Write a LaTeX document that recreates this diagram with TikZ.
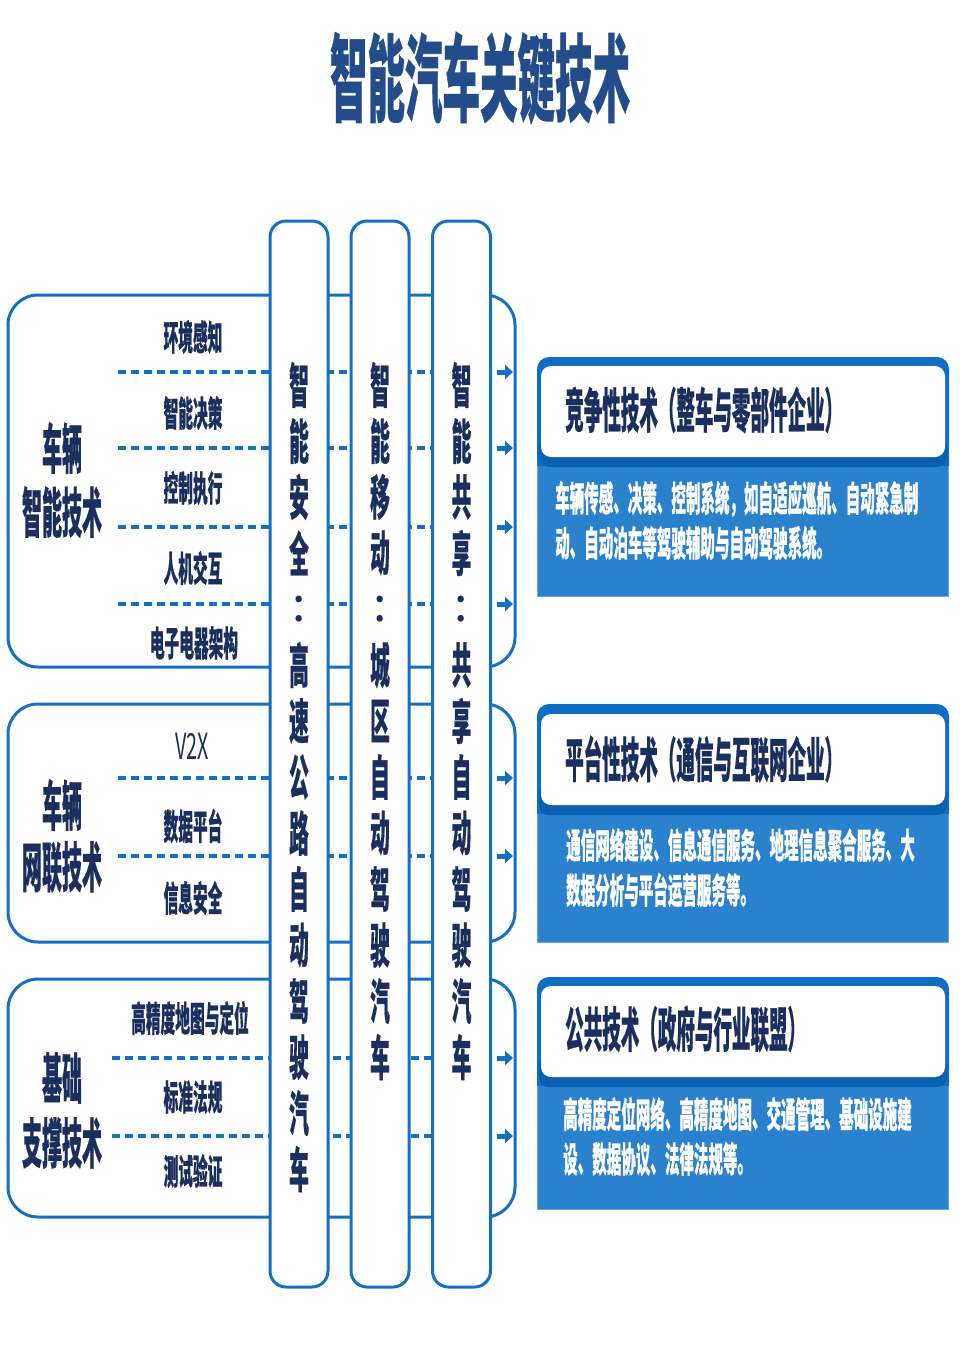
\documentclass[tikz,border=0pt]{standalone}
\usepackage{fontspec}
\setmainfont{Noto Sans CJK SC}[BoldFeatures={FakeBold=0.7}]
\usepackage{graphicx}
\usetikzlibrary{arrows.meta}
\definecolor{lineblue}{HTML}{1570C4}
\definecolor{navy}{HTML}{1B2F5E}
\definecolor{titlenavy}{HTML}{234D8A}
\definecolor{boxtop}{HTML}{0D6EC4}
\definecolor{boxshadow}{HTML}{0A60B3}
\definecolor{boxbody}{HTML}{2A82CF}
\definecolor{boxedge}{HTML}{6AA8E0}
\newcommand{\sq}[3]{\scalebox{#1}[1]{\fontsize{#2}{#2}\selectfont\bfseries #3}}
\newcommand{\colonmark}{\scalebox{2.44}[1]{\mdseries :}}
\tikzset{
 panel/.style={draw=lineblue, line width=3pt, rounded corners=30pt},
 col/.style={draw=lineblue, fill=white, line width=3pt, rounded corners=16pt, minimum width=58pt, minimum height=1066pt, inner sep=0pt},
 dashline/.style={draw=lineblue, line width=4pt, dash pattern=on 7.5pt off 5.5pt},
 arr/.style={draw=lineblue, line width=5pt, -{Triangle[length=8pt,width=14pt]}},
 item/.style={text=navy, inner sep=0pt},
 colchar/.style={text=navy, inner sep=0pt},
 bodytext/.style={text=white, inner sep=0pt, anchor=west},
 boxtitle/.style={text=navy, inner sep=0pt, anchor=west},
}
\begin{document}
\begin{tikzpicture}[x=1pt,y=-1pt]
\useasboundingbox[fill=white] (0,0) rectangle (960,1357);

% title
\node[text=titlenavy, inner sep=0pt] (title) at (480,78) {\sq{0.395}{95}{智能汽车关键技术}};

% panels
\draw[panel] (8,295) rectangle (515,667);
\draw[panel] (8,704) rectangle (515,942);
\draw[panel] (8,979) rectangle (515,1217);

% dashed separators and arrows
\foreach \yy/\xs [count=\k] in {372/118,448/118,527/118,604/118,778/118,856/118,1058/112,1136/112}{
  \coordinate (ds\k) at (\xs,\yy);
  \coordinate (de\k) at (491,\yy);
  \coordinate (as\k) at (497,\yy);
  \coordinate (ae\k) at (513,\yy);
  \draw[dashline] (ds\k) -- (de\k);
  \draw[arr] (as\k) -- (ae\k);
}

% columns
\node[col] (c1) at (299,754) {};
\node[col] (c2) at (380,754) {};
\node[col] (c3) at (461.5,754) {};

\foreach \ch [count=\i from 0] in {智,能,安,全,\colonmark,高,速,公,路,自,动,驾,驶,汽,车}
  \node[colchar] (a\i) at (299,{385+56*\i}) {\sq{0.41}{48}{\ch}};
\foreach \ch [count=\i from 0] in {智,能,移,动,\colonmark,城,区,自,动,驾,驶,汽,车}
  \node[colchar] (b\i) at (380,{385+56*\i}) {\sq{0.41}{48}{\ch}};
\foreach \ch [count=\i from 0] in {智,能,共,享,\colonmark,共,享,自,动,驾,驶,汽,车}
  \node[colchar] (d\i) at (461.5,{385+56*\i}) {\sq{0.41}{48}{\ch}};

% left labels
\node[item] (l1a) at (62,448) {\sq{0.37}{54}{车辆}};
\node[item] (l1b) at (62,512) {\sq{0.37}{54}{智能技术}};
\node[item] (l2a) at (62,805) {\sq{0.37}{54}{车辆}};
\node[item] (l2b) at (62,867) {\sq{0.37}{54}{网联技术}};
\node[item] (l3a) at (62,1078) {\sq{0.37}{54}{基础}};
\node[item] (l3b) at (62,1143) {\sq{0.37}{54}{支撑技术}};

% sub items
\node[item] (s1) at (193,337) {\sq{0.42}{35}{环境感知}};
\node[item] (s2) at (193,413) {\sq{0.42}{35}{智能决策}};
\node[item] (s3) at (193,488) {\sq{0.42}{35}{控制执行}};
\node[item] (s4) at (193,568) {\sq{0.42}{35}{人机交互}};
\node[item] (s5) at (194,643) {\sq{0.42}{35}{电子电器架构}};
\node[item] (s6) at (192,746) {\scalebox{0.55}[1]{\fontsize{36}{36}\selectfont V2X}};
\node[item] (s7) at (193,826) {\sq{0.42}{35}{数据平台}};
\node[item] (s8) at (193,898) {\sq{0.42}{35}{信息安全}};
\node[item] (s9) at (190,1018) {\sq{0.42}{35}{高精度地图与定位}};
\node[item] (s10) at (193,1097) {\sq{0.42}{35}{标准法规}};
\node[item] (s11) at (193,1171) {\sq{0.42}{35}{测试验证}};

% right boxes
\foreach \top/\wt/\wb/\bot in {357/366/457/597, 704/714/805/943, 977/986/1077/1210}{
  \fill[boxtop, rounded corners=12pt] (537,\top) rectangle (949,{\wb+20});
  \fill[boxbody] (537,{\wb+9}) rectangle (949,\bot);
  \draw[boxedge, line width=1pt] (537.5,{\wb+9}) -- (537.5,\bot-0.5) -- (948.5,\bot-0.5) -- (948.5,{\wb+9});
  \fill[boxshadow, rounded corners=10pt] (539,{\wb-20}) rectangle (947,{\wb+10});
  \fill[white, rounded corners=10pt] (541,\wt) rectangle (945,\wb);
}

\node[boxtitle] (t1) at (565,410) {\sq{0.386}{48}{竞争性技术（整车与零部件企业）}};
\node[bodytext] (b1a) at (555,499) {\sq{0.415}{35}{车辆传感、决策、控制系统，如自适应巡航、自动紧急制}};
\node[bodytext] (b1b) at (555,543) {\sq{0.415}{35}{动、自动泊车等驾驶辅助与自动驾驶系统。}};

\node[boxtitle] (t2) at (565,759) {\sq{0.386}{48}{平台性技术（通信与互联网企业）}};
\node[bodytext] (b2a) at (566,845) {\sq{0.415}{35}{通信网络建设、信息通信服务、地理信息聚合服务、大}};
\node[bodytext] (b2b) at (566,890) {\sq{0.415}{35}{数据分析与平台运营服务等。}};

\node[boxtitle] (t3) at (565,1029) {\sq{0.386}{48}{公共技术（政府与行业联盟）}};
\node[bodytext] (b3a) at (563,1114) {\sq{0.415}{35}{高精度定位网络、高精度地图、交通管理、基础设施建}};
\node[bodytext] (b3b) at (563,1159) {\sq{0.415}{35}{设、数据协议、法律法规等。}};
\end{tikzpicture}
\end{document}
